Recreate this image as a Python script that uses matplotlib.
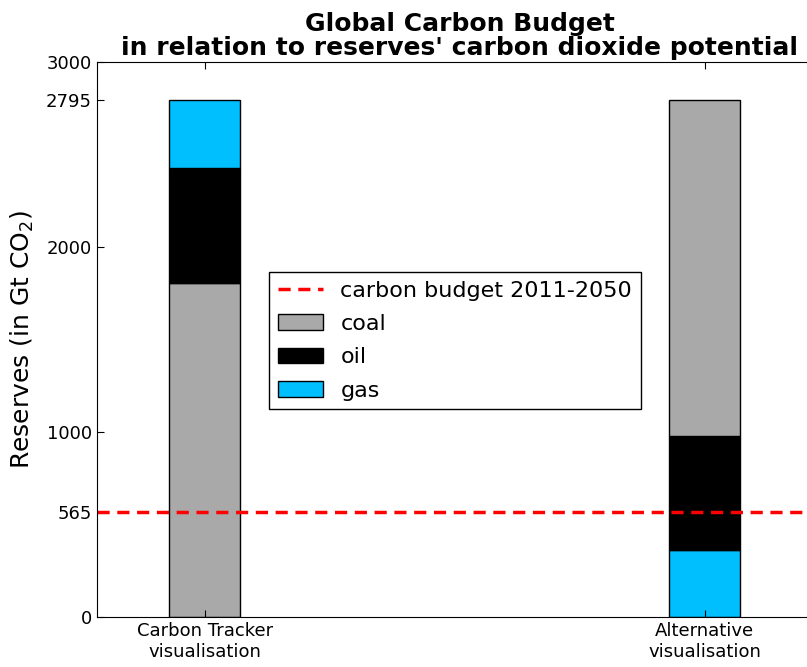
import matplotlib.pyplot as plt

labels = ['Carbon Tracker\nvisualisation', 'Alternative\nvisualisation']
coal = [1805, 1815]
oil = [622, 620]
gas = [368, 360]
budget = 565
yticks = [0, 565, 1000, 2000, 2795, 3000]

fig = plt.figure(figsize=(8.07, 6.67), dpi=100)
ax = fig.add_axes([0.120, 0.075, 0.90, 0.832])

x = [0, 1]
w = 0.142
# stacking order differs: coal first on the left, gas first on the right
ax.bar(x[0], coal[0], w, color='#a9a9a9', edgecolor='black', label='coal')
ax.bar(x[0], oil[0], w, bottom=coal[0], color='black', edgecolor='black', label='oil')
ax.bar(x[0], gas[0], w, bottom=coal[0] + oil[0], color='#00bfff', edgecolor='black', label='gas')

ax.bar(x[1], gas[1], w, color='#00bfff', edgecolor='black')
ax.bar(x[1], oil[1], w, bottom=gas[1], color='black', edgecolor='black')
ax.bar(x[1], coal[1], w, bottom=gas[1] + oil[1], color='#a9a9a9', edgecolor='black')

ax.axhline(budget, color='red', linestyle='--', linewidth=2.5, dashes=(3.5, 2.2),
           label='carbon budget 2011-2050')

ax.set_xlim(-0.216, 1.237)
ax.set_ylim(0, 3000)
ax.set_xticks(x)
ax.set_xticklabels(labels, fontsize=13)
ax.set_yticks(yticks)
ax.set_yticklabels([str(t) for t in yticks], fontsize=13)
ax.tick_params(direction='in', top=True, right=True, length=5)
ax.set_ylabel('Reserves (in Gt CO$_2$)', fontsize=18, labelpad=7)
ax.set_title("Global Carbon Budget\nin relation to reserves' carbon dioxide potential",
             fontsize=18, fontweight='bold', pad=5, linespacing=1.0)

h, l = ax.get_legend_handles_labels()
leg = fig.legend(h, l, loc='center', bbox_to_anchor=(0.564, 0.4895), fontsize=16,
                 fancybox=False, edgecolor='black', framealpha=1, handlelength=2.0,
                 labelspacing=0.6)

fig.savefig('out.png', dpi=100)
